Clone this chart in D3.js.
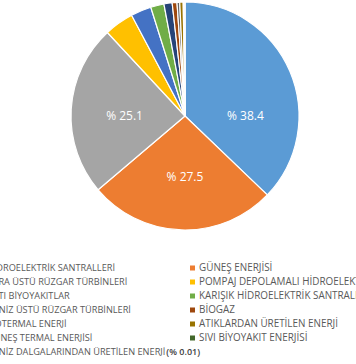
<!DOCTYPE html>
<html><head><meta charset="utf-8">
<script src="https://cdn.jsdelivr.net/npm/d3@7"></script>
<style>html,body{margin:0;padding:0;background:#fff;overflow:hidden}</style>
</head><body>
<svg id="c" width="356" height="364"></svg>
<script>
const categories = [
  "HİDROELEKTRİK SANTRALLERİ", "GÜNEŞ ENERJİSİ",
  "KARA ÜSTÜ RÜZGAR TÜRBİNLERİ", "POMPAJ DEPOLAMALI HİDROELEKTRİK SANTRALLERİ",
  "KATI BİYOYAKITLAR", "KARIŞIK HİDROELEKTRİK SANTRALLERİ",
  "DENİZ ÜSTÜ RÜZGAR TÜRBİNLERİ", "BİOGAZ",
  "JEOTERMAL ENERJİ", "ATIKLARDAN ÜRETİLEN ENERJİ",
  "GÜNEŞ TERMAL ENERJİSİ", "SIVI BİYOYAKIT ENERJİSİ",
  "DENİZ DALGALARINDAN ÜRETİLEN ENERJİ"
];
const values = [38.4, 27.5, 25.1, 4.3, 3.0, 1.95, 1.2, 0.7, 0.4, 0.5, 0.15, 0.1, 0.01];
const colors = ["#5B9BD5","#ED7D31","#A5A5A5","#FFC000","#4472C4","#70AD47",
                "#264478","#9E480E","#636363","#997300","#255E91","#43682B","#698ED0"];
const shownLabels = [0, 1, 2];          // slices with an inside label
const outsideLabelIndex = 12;           // tiny slice labelled in the legend area
const fmt = v => "% " + v;

const svg = d3.select("#c");
const cx = 185, cy = 116, R = 114;

const pie = d3.pie().sort(null).value(d => d.v);
const data = pie(values.map((v, i) => ({v, i})));
const arc = d3.arc().innerRadius(0).outerRadius(R);

const g = svg.append("g").attr("transform", `translate(${cx},${cy})`);
g.selectAll("path").data(data).join("path")
  .attr("d", arc)
  .attr("fill", d => colors[d.data.i])
  .attr("stroke", "#fff")
  .attr("stroke-width", 1.2)
  .attr("stroke-linejoin", "round");

// labels: placed on the cardinal direction the slice crosses
const labR = R * 0.53;
function labelAngle(d) {
  const mid = (d.startAngle + d.endAngle) / 2;
  const cards = [0, Math.PI/2, Math.PI, 3*Math.PI/2, 2*Math.PI];
  let best = mid, bd = Infinity;
  cards.forEach(c => {
    if (c >= d.startAngle && c <= d.endAngle) {
      const dd = Math.abs(c - mid);
      if (dd < bd) { bd = dd; best = c; }
    }
  });
  return best;
}
g.selectAll("text.lab").data(data.filter(d => shownLabels.includes(d.data.i))).join("text")
  .attr("class", "lab")
  .attr("x", d => labR * Math.sin(labelAngle(d)))
  .attr("y", d => -labR * Math.cos(labelAngle(d)))
  .attr("dy", "0.35em")
  .attr("text-anchor", "middle")
  .attr("font-family", "Open Sans")
  .attr("font-size", 12)
  .attr("fill", "#fff")
  .text(d => fmt(d.data.v));

// legend
const legTop = 268, rowH = 14;
const colX = [-22, 190];
const colFont = [9.2, 9.9];
const lg = svg.append("g").attr("font-family", "Open Sans");
categories.forEach((c, i) => {
  const col = i % 2, row = Math.floor(i / 2);
  const y = legTop + row * rowH;
  lg.append("rect").attr("x", colX[col]).attr("y", y - 2.5).attr("width", 5).attr("height", 5)
    .attr("fill", colors[i]);
  const t = lg.append("text").attr("x", colX[col] + 9).attr("y", y).attr("dy", "0.35em")
    .attr("font-size", colFont[col])
    .attr("fill", "#595959").text(c);
  if (i === outsideLabelIndex) {
    const w = t.node().getComputedTextLength();
    lg.append("text").attr("x", colX[col] + 9 + w + 1).attr("y", y).attr("dy", "0.35em")
      .attr("fill", "#404040").attr("font-size", 9).attr("font-weight", 600)
      .text("(" + fmt(values[i]) + ")");
  }
});
</script>
</body></html>
